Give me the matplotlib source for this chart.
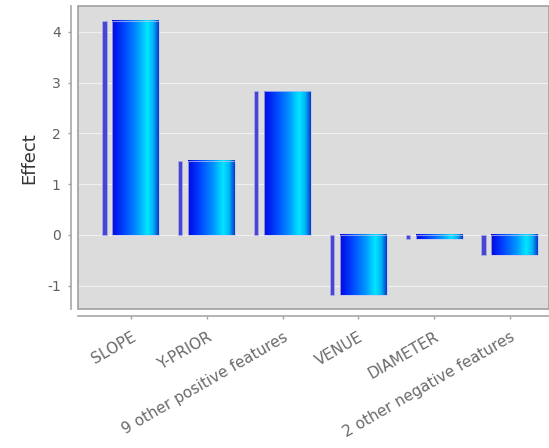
import numpy as np
import matplotlib
matplotlib.use("Agg")
import matplotlib.pyplot as plt
from matplotlib.colors import LinearSegmentedColormap
from matplotlib.patches import Rectangle

plt.rcParams["axes.unicode_minus"] = False

categories = ["SLOPE", "Y-PRIOR", "9 other positive features",
              "VENUE", "DIAMETER", "2 other negative features"]
effects = [4.22, 1.46, 2.83, -1.19, -0.09, -0.40]
yticks = [-1, 0, 1, 2, 3, 4]

grad = LinearSegmentedColormap.from_list("g", [
    (0.00, "#0a10c8"),
    (0.08, "#0018f0"),
    (0.30, "#0050ff"),
    (0.55, "#0098ff"),
    (0.75, "#00e6ff"),
    (0.88, "#00b4f8"),
    (1.00, "#0838c8"),
])

fig = plt.figure(figsize=(5.49, 4.48), dpi=100)
ax = fig.add_axes([78/549, 1-309/448, (549-78)/549, (309-6.5)/448])
ax.set_facecolor("#dcdcdc")

gimg = np.linspace(0, 1, 256).reshape(1, -1)
for i, v in enumerate(effects):
    lo, hi = min(0, v), max(0, v)
    x0, x1 = i - 0.244, i + 0.376
    ax.imshow(gimg, cmap=grad, extent=[x0, x1, lo, hi], aspect="auto",
              interpolation="bilinear", zorder=3)
    ax.add_patch(Rectangle((x0, lo), x1 - x0, hi - lo, fill=False,
                           edgecolor="#c4c4f0", lw=0.5, zorder=4))
    ax.add_patch(Rectangle((i - 0.378, lo), 0.056, hi - lo,
                           facecolor="#4646d2", edgecolor="#b0b0ee",
                           lw=0.5, zorder=3))

ax.set_xlim(-0.699, 5.515)
ax.set_ylim(-1.46, 4.5)
ax.set_yticks(yticks)
ax.set_xticks(range(len(categories)))
ax.set_xticklabels(categories)
ax.yaxis.grid(True, color="white", alpha=0.6, lw=0.8, zorder=1)
ax.set_axisbelow(True)

for s in ["top", "right"]:
    ax.spines[s].set_visible(False)
ax.spines["left"].set_position(("outward", 5))
ax.spines["bottom"].set_position(("outward", 5))
for s in ["left", "bottom"]:
    ax.spines[s].set_color("#a8a8a8")
    ax.spines[s].set_linewidth(1.2)

ax.add_patch(Rectangle((0, 0), 1, 1, transform=ax.transAxes, fill=False,
                       edgecolor="#a0a0a0", lw=1.2, zorder=5, clip_on=False))

ax.tick_params(axis="both", colors="#a0a0a0", labelcolor="#606060",
               length=2.5, width=1, labelsize=10)
ax.tick_params(axis="y", pad=5)
ax.tick_params(axis="x", pad=7, labelrotation=30, labelsize=11,
               labelcolor="#6a6a6a")
for lab in ax.get_xticklabels():
    lab.set_horizontalalignment("right")
    lab.set_rotation_mode("anchor")

ax.set_ylabel("Effect", fontsize=13, color="#333333")
ax.yaxis.set_label_coords(-0.085, 0.5)

fig.savefig("out.png", dpi=100)
